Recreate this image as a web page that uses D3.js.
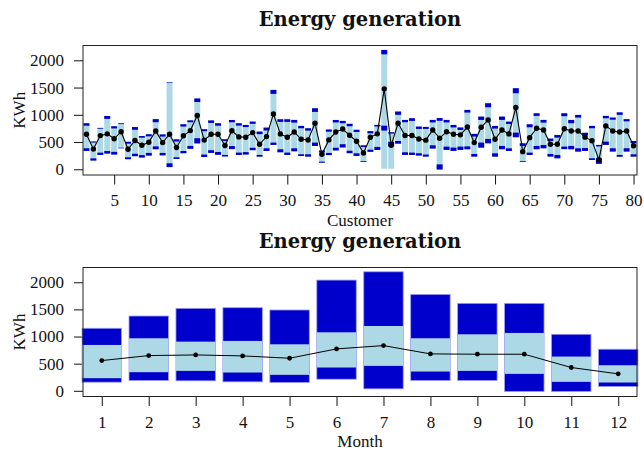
<!DOCTYPE html>
<html>
<head>
<meta charset="utf-8">
<script src="https://cdn.jsdelivr.net/npm/d3@7"></script>
<style>
  body { margin: 0; background: #fff; }
  svg { display: block; font-family: "Liberation Serif", serif; }
  .tick text { font-family: "Liberation Serif", serif; font-size: 17px; fill: #111; }
  .tick line { stroke: #111; }
  .title { font-family: "DejaVu Serif", serif; font-size: 19.5px; font-weight: bold; fill: #111; }
  .lab { font-size: 17px; fill: #111; }
</style>
</head>
<body>
<svg id="chart" width="644" height="451"></svg>
<script>
// per customer: light bar extent, dark marks, mean
const custMin = [337,160,263,288,270,385,185,240,215,250, 367,255,40,190,294,375,475,225,300,265,
  235,370,263,270,350,232,336,447,312,263, 330,244,232,428,120,260,345,400,295,245,
  135,320,355,10,10,470,263,263,251,232, 380,-5,355,337,355,367,232,397,477,232,
  367,336,588,135,263,367,385,232,201,370, 367,324,336,171,100,447,325,230,325,232];
const custLowBase = [337,160,263,288,270,385,185,240,215,250, 367,255,40,190,294,375,475,225,300,265,
  235,370,263,270,350,232,336,447,312,263, 330,244,232,428,120,260,345,400,295,245,
  135,320,355,710,420,470,263,263,251,232, 380,-5,355,337,355,367,232,397,477,232,
  367,336,588,135,263,367,385,232,201,370, 367,324,336,171,100,447,325,230,325,232];
const custLow = [385,200,305,335,320,395,220,285,260,300, 420,300,110,220,336,428,570,270,350,318,
  263,425,306,315,395,263,385,490,367,306, 385,275,275,490,140,300,395,460,340,293,
  150,360,410,800,505,520,312,306,294,270, 440,90,416,398,416,420,281,490,557,293,
  428,385,673,150,306,428,446,281,263,416, 428,385,390,202,200,508,386,263,386,275];
const custHigh = [800,490,745,925,750,830,470,725,580,605, 864,600,1590,510,784,864,1235,700,851,800,
  520,863,802,775,835,645,712,1384,870,870, 857,753,710,1053,310,690,860,845,790,685,
  410,660,785,2110,655,1000,864,888,741,741, 860,890,860,768,722,1041,600,906,1139,747,
  906,832,1396,428,771,980,857,520,581,975, 845,949,620,753,420,937,910,1000,880,480];
const custMax = [845,510,760,978,790,845,505,775,610,643, 920,640,1600,550,827,898,1300,735,897,845,
  551,905,845,814,875,692,765,1457,918,918, 906,796,753,1120,345,730,905,888,835,725,
  440,700,815,2190,680,1060,906,937,784,778, 906,940,906,814,768,1090,650,967,1212,796,
  967,875,1488,477,826,1028,906,563,630,1028, 906,998,670,796,447,980,950,1045,920,520];
const custMean = [643,370,618,650,560,690,368,527,440,496, 704,490,643,400,615,710,988,536,643,643,
  437,707,594,587,673,459,600,1016,649,587, 685,551,538,845,275,539,683,738,625,515,
  300,587,650,1476,440,845,620,620,555,535, 722,569,690,643,632,775,490,771,906,551,
  722,649,1133,324,581,753,722,459,459,745, 704,704,590,523,177,796,704,683,704,432];
const custTicks = [5,10,15,20,25,30,35,40,45,50,55,60,65,70,75,80];

// per month
const monthMin  = [159,190,184,165,153,214,36,190,190,-12,-12,79];
const monthLow  = [232,343,367,337,294,429,459,355,367,312,165,153];
const monthMean = [557,649,661,643,600,772,833,680,674,674,429,312];
const monthHigh = [845,968,906,919,857,1078,1194,968,1041,1066,631,471];
const monthMax  = [1152,1378,1519,1531,1489,2040,2193,1776,1611,1611,1041,766];
const monthTicks = [1,2,3,4,5,6,7,8,9,10,11,12];

const yTicks = [0,500,1000,1500,2000];
const titleText = "Energy generation";

const dark = "#0000cd", light = "#add8e6";
const svg = d3.select("#chart");
const left = 83, right = 637;

function panel(top, bottom, xDomain, xTicks, xLabel, labelGap) {
    const x = d3.scaleLinear().domain(xDomain).range([left, right]);
    const y = d3.scaleLinear().domain([-105, 2272]).range([bottom, top]);
    const g = svg.append("g");

    g.append("text").attr("class", "title")
        .attr("x", (left + right) / 2).attr("y", top - 19.5)
        .attr("text-anchor", "middle")
        .text(titleText);

    const yAxis = g.append("g")
        .attr("transform", `translate(${left},0)`)
        .call(d3.axisLeft(y).tickValues(yTicks).tickSize(9).tickPadding(10).tickFormat(d3.format("d")));
    yAxis.select(".domain").remove();

    const xAxis = g.append("g")
        .attr("transform", `translate(0,${bottom})`)
        .call(d3.axisBottom(x).tickValues(xTicks).tickSize(9.5).tickPadding(9.5).tickFormat(d3.format("d")));
    xAxis.select(".domain").remove();

    g.append("text").attr("class", "lab")
        .attr("x", (left + right) / 2).attr("y", bottom + labelGap)
        .attr("text-anchor", "middle")
        .text(xLabel);

    g.append("text").attr("class", "lab")
        .attr("transform", `translate(25,${(top + bottom) / 2}) rotate(-90)`)
        .attr("text-anchor", "middle")
        .text("KWh");

    return { g, x, y };
}

// top panel: customers
const p1 = panel(45.5, 175, [0.5, 80.5], custTicks, "Customer", 51);
const bw1 = (p1.x(1) - p1.x(0)) * 0.86;
const cust = custMean.map((m, i) => ({ c: i + 1, i }));
const bars1 = p1.g.append("g");
bars1.selectAll("rect.range").data(cust).enter().append("rect")
    .attr("x", d => p1.x(d.c) - bw1 / 2).attr("width", bw1)
    .attr("y", d => p1.y(custMax[d.i]))
    .attr("height", d => p1.y(custMin[d.i]) - p1.y(custMax[d.i]))
    .attr("fill", light);
bars1.selectAll("rect.lo").data(cust).enter().append("rect")
    .attr("x", d => p1.x(d.c) - bw1 / 2).attr("width", bw1)
    .attr("y", d => p1.y(custLow[d.i]))
    .attr("height", d => p1.y(custLowBase[d.i]) - p1.y(custLow[d.i]))
    .attr("fill", dark);
bars1.selectAll("rect.hi").data(cust).enter().append("rect")
    .attr("x", d => p1.x(d.c) - bw1 / 2).attr("width", bw1)
    .attr("y", d => p1.y(custMax[d.i]))
    .attr("height", d => p1.y(custHigh[d.i]) - p1.y(custMax[d.i]))
    .attr("fill", dark);
p1.g.append("path").datum(cust)
    .attr("fill", "none").attr("stroke", "#000").attr("stroke-width", 1.1)
    .attr("d", d3.line().x(d => p1.x(d.c)).y(d => p1.y(custMean[d.i])));
p1.g.selectAll("circle").data(cust).enter().append("circle")
    .attr("cx", d => p1.x(d.c)).attr("cy", d => p1.y(custMean[d.i]))
    .attr("r", 2.7).attr("fill", "#000");
p1.g.append("rect").attr("x", left).attr("y", 45.5).attr("width", right - left).attr("height", 175 - 45.5)
    .attr("fill", "none").attr("stroke", "#222").attr("stroke-width", 1);

// bottom panel: months
const p2 = panel(267.5, 396.5, [0.6, 12.4], monthTicks, "Month", 50);
const bw2 = (p2.x(1) - p2.x(0)) * 0.84;
const mon = monthMean.map((m, i) => ({ m: i + 1, i }));
p2.g.selectAll("rect.range").data(mon).enter().append("rect")
    .attr("x", d => p2.x(d.m) - bw2 / 2).attr("width", bw2)
    .attr("y", d => p2.y(monthMax[d.i]))
    .attr("height", d => p2.y(monthMin[d.i]) - p2.y(monthMax[d.i]))
    .attr("fill", dark).attr("stroke", "#9a9af0").attr("stroke-width", 0.8);
p2.g.selectAll("rect.iq").data(mon).enter().append("rect")
    .attr("x", d => p2.x(d.m) - bw2 / 2).attr("width", bw2)
    .attr("y", d => p2.y(monthHigh[d.i]))
    .attr("height", d => p2.y(monthLow[d.i]) - p2.y(monthHigh[d.i]))
    .attr("fill", light);
p2.g.append("path").datum(mon)
    .attr("fill", "none").attr("stroke", "#000").attr("stroke-width", 1)
    .attr("d", d3.line().x(d => p2.x(d.m)).y(d => p2.y(monthMean[d.i])));
p2.g.selectAll("circle").data(mon).enter().append("circle")
    .attr("cx", d => p2.x(d.m)).attr("cy", d => p2.y(monthMean[d.i]))
    .attr("r", 2.4).attr("fill", "#000");
p2.g.append("rect").attr("x", left).attr("y", 267.5).attr("width", right - left).attr("height", 396.5 - 267.5)
    .attr("fill", "none").attr("stroke", "#222").attr("stroke-width", 1);
</script>
</body>
</html>
